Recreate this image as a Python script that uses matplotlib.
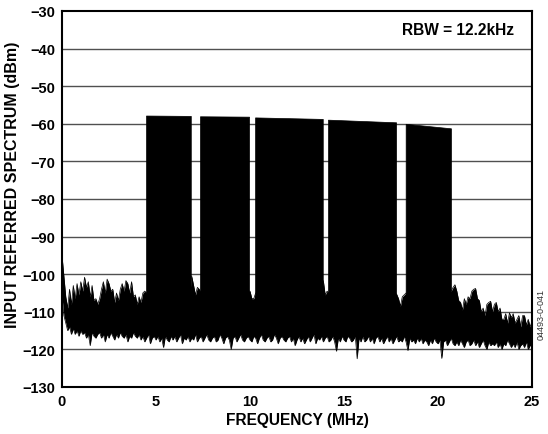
import numpy as np
import matplotlib.pyplot as plt

plt.rcParams['font.family'] = ['Liberation Sans', 'DejaVu Sans']

# Frequency grid for the noise floor (MHz), 0.1 MHz steps
freq = np.round(np.arange(0, 25.01, 0.1), 1)

# Upper envelope of the noise floor (dBm), 10 points per MHz
floor_top = [
    -95, -100.5, -106, -109, -104, -108, -103, -106.5, -102.5, -105.5,
    -102, -104.5, -100.8, -103.5, -102, -106, -103, -107, -106.5, -108,
    -106.5, -104, -102, -105, -101.3, -102.5, -104.5, -104, -107.5, -105,
    -107, -104, -102.5, -104.5, -101.7, -102.5, -105, -102, -106, -105.5,
    -108, -106, -107.5, -105, -104.5, -105, -105, -105, -105, -105,
    -105, -105, -105, -105, -105, -105, -105, -105, -105, -105,
    -105, -105, -105, -105, -105, -105, -105, -105, -105, -100.5,
    -103, -105.5, -103.5, -104, -105, -105, -105, -105, -105, -105,
    -105, -105, -105, -105, -105, -105, -105, -105, -105, -105,
    -105, -105, -105, -105, -105, -105, -105, -105, -105, -104.5,
    -104.5, -106.5, -106.5, -105, -105, -105, -105, -105, -105, -105,
    -105, -105, -105, -105, -105, -105, -105, -105, -105, -105,
    -105, -105, -105, -105, -105, -105, -105, -105, -105, -105,
    -105, -105, -105, -105, -105, -105, -105, -105, -105, -101.7,
    -105.5, -104.5, -105, -105, -105, -105, -105, -105, -105, -105,
    -105, -105, -105, -105, -105, -105, -105, -105, -105, -105,
    -105, -105, -105, -105, -105, -105, -105, -105, -105, -105,
    -105, -105, -105, -105, -105, -105, -105, -105, -105.3, -106.5,
    -108.5, -106, -105.5, -105, -105, -105, -105, -105, -105, -105,
    -105, -105, -105, -105, -105, -105, -105, -105, -105, -105,
    -105, -105, -105, -105, -105, -105, -105, -104.5, -103.5, -102.8,
    -104.5, -107, -107.5, -109.5, -106.5, -108, -106, -106.5, -104.5, -104,
    -103.8, -106.5, -107, -110, -109, -111, -108, -107.5, -107.2, -110,
    -108, -107.5, -110, -109, -112, -112, -110.5, -113, -110.3, -111.5,
    -110.5, -113, -112, -111, -114, -111, -111, -113.5, -112, -114,
    -112.5,
]

# Lower envelope of the noise floor (dBm)
floor_bot = [
    -106, -111, -113, -115, -114, -116, -114.5, -116, -115, -116.5,
    -115, -116, -115.5, -117, -116, -119, -115.5, -116.5, -117, -116,
    -115.5, -117, -116, -118, -116, -117, -115.5, -116.5, -117.5, -116,
    -117, -115.5, -116.5, -117, -116, -118, -116.5, -117, -115.5, -116.5,
    -117, -116, -117.5, -116.5, -118, -117, -116, -118.5, -117, -116.5,
    -117.5, -116.5, -118, -117, -119.5, -116.5, -117.5, -118, -116.5, -117.5,
    -116.5, -118, -117, -116, -118.5, -117, -117.5, -116.5, -118, -117,
    -117.5, -116, -118, -117, -116.5, -118, -117, -116, -117.5, -118,
    -117, -116.5, -118, -117.5, -116, -117, -118.5, -117, -116.5, -117.5,
    -120, -117, -116.5, -118, -117, -116, -117.5, -118, -117, -116.5,
    -117.5, -118, -116.5, -117, -118.5, -117, -116, -117.5, -118, -117,
    -116.5, -118, -117.5, -116, -117, -118.5, -117, -116.5, -117.5, -118,
    -117, -116.5, -118, -117, -119, -117.5, -116.5, -118, -117, -118.5,
    -117.5, -116.5, -118, -117, -116, -118.5, -117, -117.5, -116.5, -118,
    -117, -116.5, -118, -117.5, -116.5, -118, -120.5, -117, -118, -116.5,
    -117.5, -118, -116.5, -117, -118, -117.5, -116.5, -122.5, -117, -118,
    -116.5, -118, -117.5, -116.5, -118, -117, -118.5, -117, -116.5, -118,
    -117, -118.5, -117.5, -116.5, -118, -117, -118.5, -117.5, -116.5, -118,
    -117.5, -118, -116.5, -118, -120.3, -117, -118, -117.5, -118.5, -117,
    -118, -117, -118.5, -117.5, -118, -119, -117.5, -118.5, -117, -118,
    -118.5, -117.5, -122.4, -118, -117.5, -119, -118, -117, -118.5, -119,
    -118, -119, -117.5, -118.5, -119.5, -118, -117.5, -119, -118.5, -117.5,
    -119, -118, -119.5, -118.5, -117.5, -119, -120, -118, -119, -118.5,
    -119, -118, -119.5, -118.5, -120, -118.5, -119, -117.5, -118.5, -119.5,
    -118.5, -119.5, -118, -120, -119, -118.5, -119.5, -118, -120, -119,
    -118.5,
]

# Multitone blocks: edges (MHz) and top level at each edge (dBm)
block_start = [4.47, 7.34, 10.27, 14.15, 18.28]
block_stop = [6.85, 9.95, 13.87, 17.77, 20.69]
block_top_start = [-57.8, -58.0, -58.3, -58.9, -60.0]
block_top_stop = [-57.9, -58.1, -58.7, -59.6, -61.2]
block_bottom = -110

fig = plt.figure(figsize=(5.48, 4.35), dpi=100)
ax = fig.add_axes([62 / 548, 47 / 435, 470 / 548, 376 / 435])

# horizontal grid only
for level in range(-120, -30, 10):
    ax.axhline(level, color='#505050', lw=1.0, zorder=1)

# noise floor
ax.fill_between(freq, floor_bot, floor_top, color='black', lw=0, zorder=2)
ax.plot(freq, floor_top, color='black', lw=0.5, zorder=2)
ax.plot(freq, floor_bot, color='black', lw=0.5, zorder=2)

# tone blocks
for f0, f1, t0, t1 in zip(block_start, block_stop, block_top_start, block_top_stop):
    ax.fill_between([f0, f1], [block_bottom, block_bottom], [t0, t1],
                    color='black', lw=0.5, zorder=3)

ax.set_xlim(0, 25)
ax.set_ylim(-130, -30)
ax.set_xticks([0, 5, 10, 15, 20, 25])
ax.set_yticks(range(-130, -29, 10))
ax.tick_params(length=0, labelsize=10.5, pad=5)
for lab in ax.get_xticklabels() + ax.get_yticklabels():
    lab.set_fontweight('bold')
for sp in ax.spines.values():
    sp.set_linewidth(1.5)

ax.set_xlabel('FREQUENCY (MHz)', fontsize=11.2, fontweight='bold', labelpad=3)
ax.set_ylabel('INPUT REFERRED SPECTRUM (dBm)', fontsize=11.5, fontweight='bold')
ax.yaxis.set_label_coords(-0.09, 0.54)

ax.text(0.962, 0.952, 'RBW = 12.2kHz', transform=ax.transAxes, ha='right',
        va='center', fontsize=11.2, fontweight='bold')
fig.text(541 / 548, 1 - 315 / 435, '04493-0-041', rotation=90, ha='center',
         va='center', fontsize=6.5, color='#333333')

fig.savefig('out.png', dpi=100)
